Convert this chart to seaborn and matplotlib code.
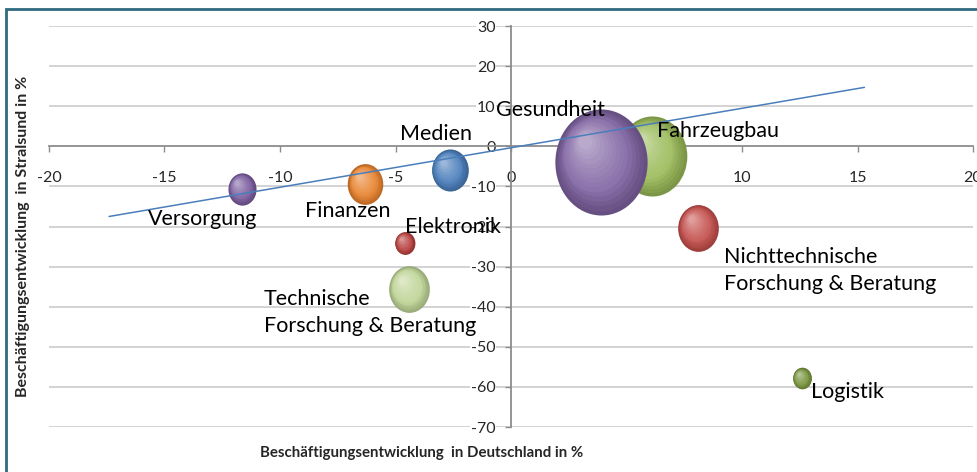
import numpy as np
import pandas as pd
import matplotlib
matplotlib.use('Agg')
import matplotlib.pyplot as plt
import seaborn as sns
from matplotlib.path import Path
from matplotlib.transforms import Affine2D, ScaledTranslation
from matplotlib.colors import to_rgb
from matplotlib.patches import Rectangle

# data
branchen = ['Fahrzeugbau', 'Gesundheit', 'Versorgung', 'Finanzen', 'Medien',
            'Elektronik', 'Technische\nForschung & Beratung',
            'Nichttechnische\nForschung & Beratung', 'Logistik']
deutschland = [6.1, 3.9, -11.65, -6.3, -2.65, -4.6, -4.4, 8.1, 12.6]
stralsund = [-2.5, -4.0, -10.7, -9.5, -6.0, -24.2, -35.7, -20.4, -57.9]
groesse = [1230, 2160, 200, 320, 340, 100, 420, 420, 90]
farben = ['#9BBB59', '#8064A2', '#7A5C9E', '#E8822E', '#4A7EBB',
          '#B8403E', '#BFD597', '#C44F4C', '#77933C']

# label anchors (left edge, vertical centre) in data units
label_x = [6.3, -0.65, -15.7, -8.9, -4.8, -4.6, -10.7, 9.2, 13.0]
label_y = [3.7, 9.0, -18.2, -16.2, 3.0, -20.2, -41.4, -31.0, -61.3]

trend_x = [-17.4, 15.3]
trend_y = [-17.5, 14.7]

x_ticks = [-20, -15, -10, -5, 0, 5, 10, 15, 20]
y_ticks = [30, 20, 10, 0, -10, -20, -30, -40, -50, -60, -70]

df = pd.DataFrame({'branche': branchen, 'de': deutschland, 'hst': stralsund,
                   'groesse': groesse})

sns.set_style('white')
plt.rcParams['font.family'] = ['Lato', 'DejaVu Sans']

fig = plt.figure(figsize=(9.78, 4.72), dpi=100)
ax = fig.add_axes([0.0501, 0.0953, 0.9448, 0.8496])

# slightly taller-than-wide bubbles, like the original
ell = Path.unit_circle().transformed(Affine2D().scale(0.87, 1.0))

k = 2.7
smax = k * max(groesse)
for i, row in df.iterrows():
    base = np.array(to_rgb(farben[i]))
    z = 3 + i
    sns.scatterplot(data=df.iloc[[i]], x='de', y='hst', size='groesse',
                    sizes=(0, smax), size_norm=(0, max(groesse)),
                    color=base * 0.8, marker=ell, linewidth=0, legend=False,
                    ax=ax, zorder=z)
    s = k * row['groesse']
    r = np.sqrt(s) / 2
    n = 14
    for j in range(1, n + 1):
        t = j / n
        frac = 1 - 0.85 * t
        col = base * (1 - 0.45 * t ** 1.5) + 0.45 * t ** 1.5
        col = np.clip(col * (0.8 + 0.2 * min(1, t * 3)), 0, 1)
        dx = -r * 0.30 * t
        dy = r * 0.40 * t
        tr = ax.transData + ScaledTranslation(dx / 72, dy / 72, fig.dpi_scale_trans)
        ax.scatter([row['de']], [row['hst']], s=s * frac ** 2, color=col,
                   marker=ell, linewidths=0, transform=tr, zorder=z)

ax.plot(trend_x, trend_y, color='#4A7EBB', linewidth=1.1, zorder=20)

for i in range(len(branchen)):
    ax.text(label_x[i], label_y[i], branchen[i], fontsize=15.5, ha='left',
            va='center', color='black', linespacing=1.45, zorder=25)

ax.set_xlim(-20, 20)
ax.set_ylim(-70, 30)
ax.set_xticks(x_ticks)
ax.set_yticks(y_ticks)
ax.set_xticklabels([str(v) for v in x_ticks])
ax.set_yticklabels([str(v) for v in y_ticks])

for v in y_ticks:
    if v != 0:
        ax.axhline(v, color='#D0D0D0', linewidth=1.3, zorder=0)

ax.spines['left'].set_position(('data', 0))
ax.spines['bottom'].set_position(('data', 0))
ax.spines['top'].set_visible(False)
ax.spines['right'].set_visible(False)
for sp in ['left', 'bottom']:
    ax.spines[sp].set_color('#8C8C8C')
    ax.spines[sp].set_linewidth(1.3)
    ax.spines[sp].set_zorder(1)

ax.tick_params(axis='x', direction='out', length=4, width=1, color='#8C8C8C',
               pad=14, labelsize=11.5, bottom=True)
ax.tick_params(axis='y', direction='out', length=4, width=1, color='#8C8C8C',
               pad=7, labelsize=11.5, left=True)
for lab in ax.get_yticklabels():
    lab.set_bbox(dict(facecolor='white', edgecolor='none', pad=0.5))
ax.set_xlabel('')
ax.set_ylabel('')

fig.text(0.431, 0.040, 'Beschäftigungsentwicklung  in Deutschland in %',
         fontsize=10.8, fontweight='bold', ha='center', va='center')
fig.text(0.024, 0.50, 'Beschäftigungsentwicklung  in Stralsund in %',
         fontsize=11.5, fontweight='bold', ha='center', va='center',
         rotation=90)

# chart frame (only top and left edges are visible in the crop)
fig.add_artist(Rectangle((6.5 / 978, -0.05), 1.2, 1.05 - 8.5 / 472,
                         transform=fig.transFigure, fill=False,
                         edgecolor='#2F6A80', linewidth=2.0))

fig.savefig('out.png', dpi=100)
